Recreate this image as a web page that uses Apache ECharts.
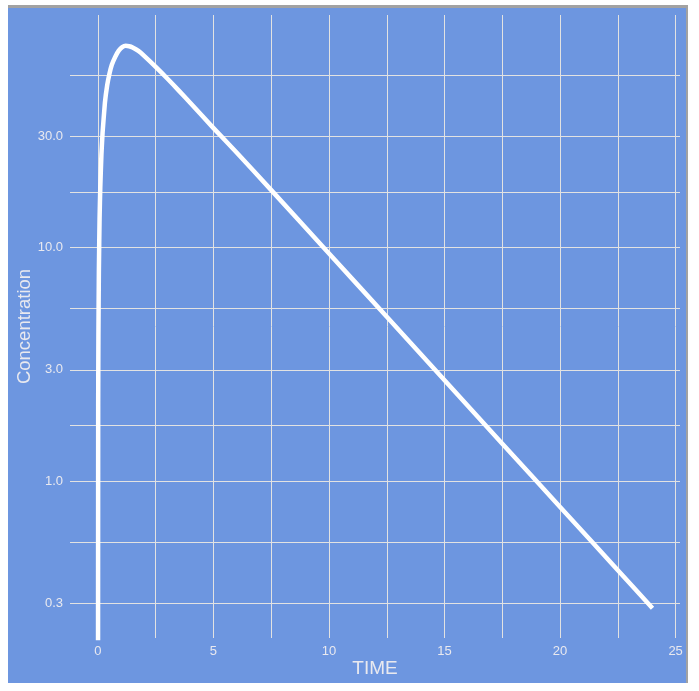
<!DOCTYPE html>
<html>
<head>
<meta charset="utf-8">
<script src="https://cdn.jsdelivr.net/npm/echarts@6/dist/echarts.min.js"></script>
<style>
  html, body { margin: 0; padding: 0; background: #ffffff; }
  #frame { position: absolute; left: 8px; top: 5px; width: 680px; height: 678px;
           border-top: 3px solid #a2a2a2; border-right: 2px solid #a2a2a2;
           box-sizing: border-box; background: #6d96e0; }
  #chart { width: 678px; height: 675px; }
</style>
</head>
<body>
<div id="frame"><div id="chart"></div></div>
<script>
// Time (h) and concentration
const times = [0, 0.01, 0.02, 0.04, 0.07, 0.1, 0.15, 0.2, 0.3, 0.4, 0.5, 0.6, 0.75, 0.9, 1.05, 1.2, 1.35, 1.5, 1.75, 2.0, 2.5, 3.0, 3.5, 4.0, 5, 6, 7.5, 10, 12.5, 15, 17.5, 20, 22.5, 24];
const concentration = [0.05, 2.1, 4.2, 8.0, 13.3, 18.0, 25.0, 31.0, 41.5, 49.5, 55.5, 60.5, 65.5, 69.5, 72.0, 72.9, 72.6, 71.7, 69.3, 66.0, 59.2, 52.8, 46.9, 41.5, 32.4, 25.5, 17.6, 9.43, 5.06, 2.71, 1.45, 0.778, 0.417, 0.287];

const xGridValues = [0, 2.5, 5, 7.5, 10, 12.5, 15, 17.5, 20, 22.5, 25];
const xLabelValues = [0, 5, 10, 15, 20, 25];
const yGridValues = [0.3, 0.548, 1, 1.73, 3, 5.48, 10, 17.3, 30, 54.8];
const yLabelValues = [0.3, 1, 3, 10, 30];

const seriesData = times.map((t, i) => [t, concentration[i]]);

const font = "'Liberation Sans', Arial, sans-serif";
const labelColor = '#e9e9ef';
const gridColor = '#e2e2e2';

const chart = echarts.init(document.getElementById('chart'), null, { renderer: 'canvas' });
chart.setOption({
  animation: false,
  backgroundColor: 'transparent',
  grid: { left: 62, right: 6, top: 7, bottom: 45, containLabel: false, outerBoundsMode: 'none' },
  xAxis: {
    type: 'value',
    min: -1.21,
    max: 25.19,
    name: 'TIME',
    nameLocation: 'middle',
    nameGap: 21,
    nameMoveOverlap: false,
    nameTextStyle: { color: labelColor, fontSize: 19, fontFamily: font },
    axisLine: { show: false },
    axisTick: { show: false, customValues: xGridValues },
    axisLabel: { customValues: xLabelValues, color: labelColor, fontSize: 13, fontFamily: font, margin: 7,
                 formatter: v => String(v) },
    splitLine: { show: true, lineStyle: { color: gridColor, width: 1 } }
  },
  yAxis: {
    type: 'log',
    logBase: 10,
    min: 0.214,
    max: 98.7,
    name: 'Concentration',
    nameLocation: 'middle',
    nameGap: 36,
    nameRotate: 90,
    nameMoveOverlap: false,
    nameTextStyle: { color: labelColor, fontSize: 18.5, fontFamily: font },
    axisLine: { show: false },
    axisTick: { show: false, customValues: yGridValues },
    axisLabel: { customValues: yLabelValues, color: labelColor, fontSize: 13, fontFamily: font, margin: 7,
                 formatter: v => Number(v).toFixed(1) },
    splitLine: { show: true, lineStyle: { color: gridColor, width: 1 } }
  },
  series: [{
    type: 'line',
    data: seriesData,
    showSymbol: false,
    smooth: 0.15,
    clip: true,
    lineStyle: { color: '#ffffff', width: 4.5, join: 'round' }
  }]
});
</script>
</body>
</html>
